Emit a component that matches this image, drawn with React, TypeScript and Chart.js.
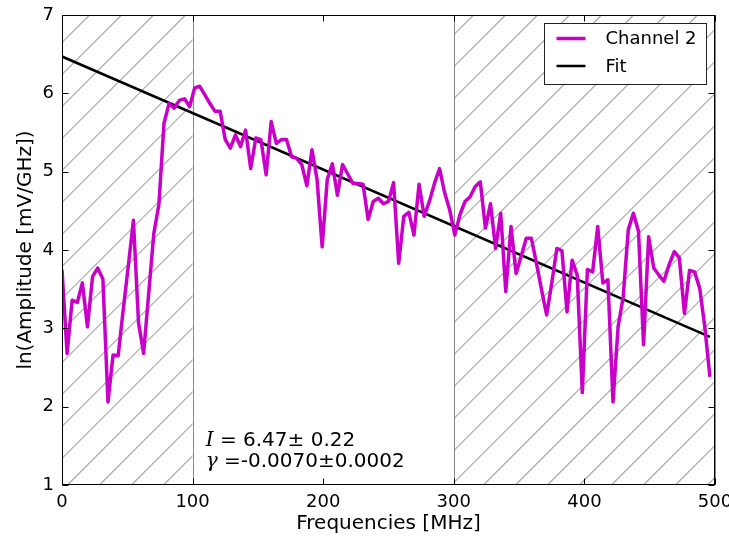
import React, { useEffect, useRef } from "react";
import { Chart, registerables } from "chart.js";

Chart.register(...registerables);

// Frequencies [MHz]
const frequencies = [
  0, 3.9, 7.8, 11.7, 15.6, 19.5, 23.4, 27.3, 31.3, 35.2, 39.1, 43.0, 46.9, 50.8, 54.7, 58.6,
  62.5, 66.4, 70.3, 74.2, 78.1, 82.0, 85.9, 89.8, 93.8, 97.7, 101.6, 105.5, 109.4, 113.3, 117.2, 121.1,
  125.0, 128.9, 132.8, 136.7, 140.6, 144.5, 148.4, 152.3, 156.3, 160.2, 164.1, 168.0, 171.9, 175.8, 179.7, 183.6,
  187.5, 191.4, 195.3, 199.2, 203.1, 207.0, 210.9, 214.8, 218.8, 222.7, 226.6, 230.5, 234.4, 238.3, 242.2, 246.1,
  250.0, 253.9, 257.8, 261.7, 265.6, 269.5, 273.4, 277.3, 281.3, 285.2, 289.1, 293.0, 296.9, 300.8, 304.7, 308.6,
  312.5, 316.4, 320.3, 324.2, 328.1, 332.0, 335.9, 339.8, 343.8, 347.7, 351.6, 355.5, 359.4, 363.3, 367.2, 371.1,
  375.0, 378.9, 382.8, 386.7, 390.6, 394.5, 398.4, 402.3, 406.3, 410.2, 414.1, 418.0, 421.9, 425.8, 429.7, 433.6,
  437.5, 441.4, 445.3, 449.2, 453.1, 457.0, 460.9, 464.8, 468.8, 472.7, 476.6, 480.5, 484.4, 488.3, 492.2, 496.1,
];

// ln(Amplitude) of Channel 2
const channel2 = [
  3.75, 2.68, 3.36, 3.33, 3.58, 3.02, 3.66, 3.77, 3.63, 2.06, 2.66, 2.65, 3.24, 3.8, 4.38, 3.07,
  2.68, 3.45, 4.21, 4.58, 5.62, 5.87, 5.81, 5.91, 5.93, 5.83, 6.07, 6.09, 5.98, 5.87, 5.77, 5.77,
  5.41, 5.3, 5.47, 5.32, 5.53, 5.04, 5.43, 5.41, 4.96, 5.64, 5.36, 5.41, 5.41, 5.19, 5.17, 5.09,
  4.82, 5.28, 4.9, 4.04, 4.9, 5.1, 4.7, 5.09, 4.97, 4.85, 4.85, 4.84, 4.39, 4.62, 4.66, 4.59,
  4.62, 4.86, 3.83, 4.43, 4.48, 4.19, 4.84, 4.43, 4.62, 4.85, 5.04, 4.73, 4.51, 4.19, 4.45, 4.62,
  4.68, 4.81, 4.87, 4.28, 4.59, 4.02, 4.47, 3.47, 4.3, 3.7, 3.92, 4.15, 4.15, 3.83, 3.49, 3.17,
  3.58, 4.02, 3.99, 3.21, 3.87, 3.68, 2.18, 3.75, 3.72, 4.3, 3.58, 3.62, 2.06, 3.02, 3.4, 4.26,
  4.47, 4.24, 2.79, 4.17, 3.77, 3.68, 3.6, 3.81, 3.98, 3.9, 3.19, 3.74, 3.72, 3.51, 3.02, 2.38,
];

// Linear fit endpoints
const fitX = [0, 496.1];
const fitY = [6.47, 2.89];

// Hatched (excluded) frequency bands [MHz]
const maskedBands: [number, number][] = [
  [0, 100],
  [300, 500],
];

const xTicks = [0, 100, 200, 300, 400, 500];
const yTicks = [1, 2, 3, 4, 5, 6, 7];

const seriesLabels = ["Channel 2", "Fit"];
const annotationLine1 = " = 6.47\u00b1 0.22";
const annotationLine2 = " =-0.0070\u00b10.0002";

const MAGENTA = "#c800c8";
const SANS = '"DejaVu Sans", sans-serif';
const SERIF = '"DejaVu Serif", serif';

const hatchPlugin = {
  id: "hatchBands",
  beforeDatasetsDraw(chart: any) {
    const { ctx, chartArea: a, scales } = chart;
    const xs = scales.x;
    for (const [s, e] of maskedBands) {
      const x0 = xs.getPixelForValue(s);
      const x1 = xs.getPixelForValue(e);
      ctx.save();
      ctx.beginPath();
      ctx.rect(x0, a.top, x1 - x0, a.bottom - a.top);
      ctx.clip();
      ctx.strokeStyle = "#a6a6a6";
      ctx.lineWidth = 1.2;
      ctx.beginPath();
      const spacing = 32;
      const phase = 8.5;
      const cStart = Math.floor((x0 + a.top - phase) / spacing) * spacing + phase;
      for (let c = cStart; c <= x1 + a.bottom + spacing; c += spacing) {
        ctx.moveTo(c - a.bottom, a.bottom);
        ctx.lineTo(c - a.top, a.top);
      }
      ctx.stroke();
      ctx.restore();
      ctx.save();
      ctx.strokeStyle = "#888888";
      ctx.lineWidth = 1;
      ctx.beginPath();
      for (const px of [x0, x1]) {
        const p = Math.round(px) + 0.5;
        ctx.moveTo(p, a.top);
        ctx.lineTo(p, a.bottom);
      }
      ctx.stroke();
      ctx.restore();
    }
  },
};

const framePlugin = {
  id: "frameTicksLegend",
  afterDraw(chart: any) {
    const { ctx, chartArea: a, scales } = chart;
    const xs = scales.x;
    const ys = scales.y;
    ctx.save();
    // frame
    ctx.strokeStyle = "#000";
    ctx.lineWidth = 1;
    const L = Math.round(a.left) + 0.5;
    const R = Math.round(a.right) - 0.5;
    const T = Math.round(a.top) + 0.5;
    const B = Math.round(a.bottom) - 0.5;
    ctx.strokeRect(L, T, R - L, B - T);
    // inward ticks
    const tl = 6;
    ctx.beginPath();
    for (const v of xTicks) {
      const p = Math.round(xs.getPixelForValue(v)) + 0.5;
      ctx.moveTo(p, B);
      ctx.lineTo(p, B - tl);
      ctx.moveTo(p, T);
      ctx.lineTo(p, T + tl);
    }
    for (const v of yTicks) {
      const p = Math.round(ys.getPixelForValue(v)) + 0.5;
      ctx.moveTo(L, p);
      ctx.lineTo(L + tl, p);
      ctx.moveTo(R, p);
      ctx.lineTo(R - tl, p);
    }
    ctx.stroke();

    // annotation
    const ax = xs.getPixelForValue(110);
    const ay = ys.getPixelForValue(1.5);
    ctx.fillStyle = "#000";
    ctx.textBaseline = "alphabetic";
    ctx.textAlign = "left";
    ctx.font = `italic 20px ${SERIF}`;
    ctx.fillText("I", ax, ay);
    let w = ctx.measureText("I").width;
    ctx.font = `20px ${SANS}`;
    ctx.fillText(annotationLine1, ax + w, ay);
    ctx.font = `italic 20px ${SERIF}`;
    ctx.fillText("\u03b3", ax, ay + 21);
    w = ctx.measureText("\u03b3").width;
    ctx.font = `20px ${SANS}`;
    ctx.fillText(annotationLine2, ax + w, ay + 21);

    // legend
    const bw = 162;
    const bh = 61;
    const bx = Math.round(a.right - 9 - bw) + 0.5;
    const by = Math.round(a.top + 8) + 0.5;
    ctx.fillStyle = "#fff";
    ctx.fillRect(bx, by, bw, bh);
    ctx.strokeStyle = "#222";
    ctx.lineWidth = 1;
    ctx.strokeRect(bx, by, bw, bh);
    const colors = [MAGENTA, "#000"];
    const widths = [3.5, 2.5];
    ctx.font = `18px ${SANS}`;
    ctx.textBaseline = "middle";
    seriesLabels.forEach((lab, i) => {
      const yy = by + 15 + i * 27.5;
      ctx.strokeStyle = colors[i];
      ctx.lineWidth = widths[i];
      ctx.beginPath();
      ctx.moveTo(bx + 12, yy);
      ctx.lineTo(bx + 41, yy);
      ctx.stroke();
      ctx.fillStyle = "#000";
      ctx.fillText(lab, bx + 61, yy + 1);
    });
    ctx.restore();
  },
};

export default function App() {
  const canvasRef = useRef<HTMLCanvasElement | null>(null);

  useEffect(() => {
    if (!canvasRef.current) return;
    const chart = new Chart(canvasRef.current, {
      type: "line",
      data: {
        datasets: [
          {
            label: seriesLabels[0],
            data: frequencies.map((f, i) => ({ x: f, y: channel2[i] })),
            borderColor: MAGENTA,
            borderWidth: 3.5,
            pointRadius: 0,
            tension: 0,
            borderJoinStyle: "round",
            fill: false,
          },
          {
            label: seriesLabels[1],
            data: fitX.map((f, i) => ({ x: f, y: fitY[i] })),
            borderColor: "#000",
            borderWidth: 2.5,
            pointRadius: 0,
            tension: 0,
            fill: false,
          },
        ],
      },
      options: {
        responsive: false,
        animation: false,
        events: [],
        layout: { padding: { top: 15, right: 14, left: 0, bottom: 0 } },
        plugins: { legend: { display: false }, tooltip: { enabled: false } },
        scales: {
          x: {
            type: "linear",
            min: 0,
            max: 500,
            grid: { display: false, drawTicks: false },
            border: { display: false },
            ticks: {
              stepSize: 100,
              padding: 7,
              color: "#000",
              font: { family: SANS, size: 18 },
              maxRotation: 0,
            },
            title: {
              display: true,
              text: "Frequencies [MHz]",
              color: "#000",
              font: { family: SANS, size: 20 },
              padding: { top: 0, bottom: 1 },
            },
            afterFit(scale: any) {
              scale.height = 52;
              scale.paddingLeft = 0;
              scale.paddingRight = 0;
            },
          },
          y: {
            type: "linear",
            min: 1,
            max: 7,
            grid: { display: false, drawTicks: false },
            border: { display: false },
            ticks: {
              stepSize: 1,
              padding: 8,
              color: "#000",
              font: { family: SANS, size: 18 },
            },
            title: {
              display: true,
              text: "ln(Amplitude [mV/GHz])",
              color: "#000",
              font: { family: SANS, size: 20 },
              padding: { top: 14, bottom: 0 },
            },
            afterFit(scale: any) {
              scale.width = 62;
              scale.paddingTop = 0;
              scale.paddingBottom = 0;
            },
          },
        },
      },
      plugins: [hatchPlugin, framePlugin],
    } as any);
    return () => chart.destroy();
  }, []);

  return (
    <div style={{ position: "fixed", left: 0, top: 0, width: 729, height: 537, background: "#fff" }}>
      <canvas ref={canvasRef} width={729} height={537} />
    </div>
  );
}
